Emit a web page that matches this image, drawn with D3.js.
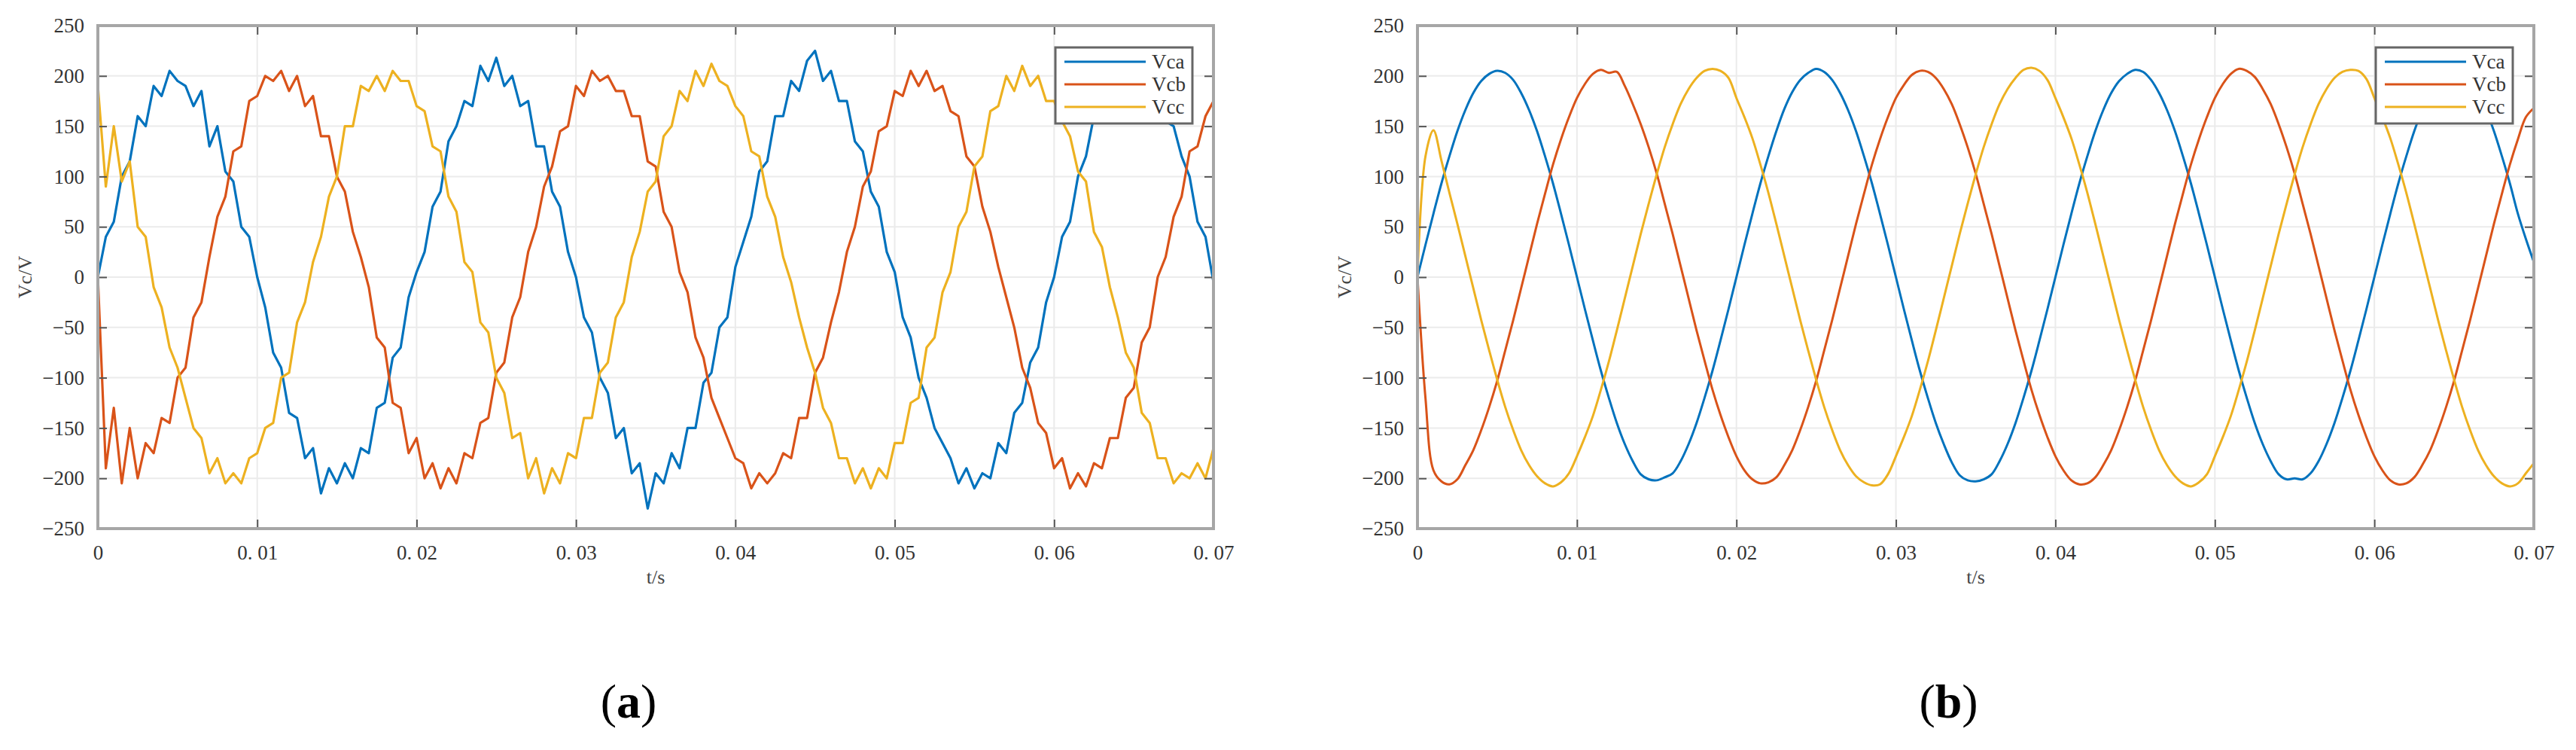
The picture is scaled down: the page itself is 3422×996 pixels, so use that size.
<!DOCTYPE html>
<html><head><meta charset="utf-8">
<script src="https://cdn.jsdelivr.net/npm/d3@7/dist/d3.min.js"></script>
<style>body{margin:0;background:#fff}svg{display:block}</style>
</head><body>
<svg id="c" width="3422" height="996"></svg>
<script>
const seriesNames = ["Vca","Vcb","Vcc"];
const colors = ["#0072BD","#D95319","#EDB120"];
const dt = 0.0005;
const xTicks = [0,0.01,0.02,0.03,0.04,0.05,0.06,0.07];
const xTickLabels = ["0","0. 01","0. 02","0. 03","0. 04","0. 05","0. 06","0. 07"];
const yTicks = [-250,-200,-150,-100,-50,0,50,100,150,200,250];

const aVca = [0,40,55,100,115,160,150,190,180,205,195,190,170,185,130,150,105,95,50,40,0,-30,-75,-90,-135,-140,-180,-170,-215,-190,-205,-185,-200,-170,-175,-130,-125,-80,-70,-20,
5,25,70,85,135,150,175,170,210,195,218,190,200,170,175,130,130,85,70,25,0,-40,-55,-100,-115,-160,-150,-195,-185,-230,-195,-205,-175,-190,-150,-150,-105,-95,-50,-40,
10,35,60,105,115,160,160,195,185,215,225,195,205,175,175,135,125,85,70,25,5,-40,-60,-100,-120,-150,-165,-180,-205,-190,-210,-195,-200,-165,-175,-135,-125,-85,-70,-25,
0,40,55,100,120,160,155,190,175,200,195,170,200,185,155,150,120,100,55,40,-5];
const aVcb = [0,-190,-130,-205,-150,-200,-165,-175,-140,-145,-100,-90,-40,-25,20,60,80,125,130,175,180,200,195,205,185,200,170,180,140,140,100,85,45,20,-10,-60,-70,-125,-130,-175,
-160,-200,-185,-210,-190,-205,-175,-180,-145,-140,-95,-85,-40,-20,25,50,90,110,145,150,190,180,205,195,200,185,185,160,160,115,110,65,50,5,-15,-60,-80,-120,-140,-160,
-180,-185,-210,-195,-205,-195,-175,-180,-140,-140,-95,-80,-45,-15,25,50,90,105,145,150,185,180,205,190,205,185,190,165,160,120,110,70,45,10,-20,-50,-90,-110,-145,-155,
-190,-180,-210,-195,-208,-185,-190,-160,-160,-120,-110,-65,-50,0,20,60,80,125,130,160,175];
const aVcc = [190,90,150,95,115,50,40,-10,-30,-70,-90,-120,-150,-160,-195,-180,-205,-195,-205,-180,-175,-150,-145,-100,-95,-45,-25,15,40,80,100,150,150,190,185,200,185,205,195,195,
170,165,130,125,80,65,15,5,-45,-55,-100,-115,-160,-155,-200,-180,-215,-190,-205,-175,-180,-140,-140,-95,-85,-40,-25,20,45,85,95,140,150,185,175,205,190,212,195,190,
170,160,125,120,80,60,20,-5,-40,-70,-95,-130,-145,-180,-180,-205,-190,-210,-190,-200,-165,-165,-125,-120,-70,-60,-15,5,50,65,110,120,165,170,200,185,210,190,200,175,
175,155,140,105,95,45,30,-10,-40,-75,-90,-135,-145,-180,-180,-205,-195,-200,-185,-200,-170];

const bVca = [0,32,63,93,120,145,166,183,195,202,205,203,196,183,166,145,120,93,63,32,0,-32,-63,-93,-120,-145,-166,-183,-196,-201,-202,-199,-195,-183,-166,-145,-120,-93,-63,-32,
0,32,63,93,120,145,167,184,196,203,207,204,196,183,166,145,120,93,63,32,0,-32,-63,-93,-120,-145,-166,-184,-197,-202,-203,-201,-196,-183,-166,-145,-120,-93,-63,-32,
0,32,63,93,120,145,166,183,195,202,206,204,196,183,166,145,120,93,63,32,0,-32,-63,-93,-120,-145,-166,-183,-196,-201,-200,-201,-195,-183,-166,-145,-120,-93,-63,-32,
0,32,63,93,120,145,166,183,195,202,205,203,196,183,166,145,120,93,63,38,15];
const bVcb = [0,-120,-192,-203,-206,-201,-187,-172,-152,-129,-103,-73,-43,-11,21,53,83,112,137,159,178,192,202,206,203,204,190,172,152,129,103,73,43,11,-21,-53,-83,-112,-137,-159,
-178,-192,-201,-205,-204,-199,-187,-172,-152,-129,-103,-73,-43,-11,21,53,83,112,137,159,178,191,201,205,204,198,187,172,152,129,103,73,43,11,-21,-53,-83,-112,-137,-159,
-178,-192,-202,-206,-205,-199,-187,-172,-152,-129,-103,-73,-43,-11,21,53,83,112,137,159,178,192,202,207,205,199,187,172,152,129,103,73,43,11,-21,-53,-83,-112,-137,-159,
-178,-192,-202,-206,-205,-199,-187,-172,-152,-129,-103,-73,-43,-11,21,53,83,112,137,159,168];
const bVcc = [0,120,146,116,84,53,21,-11,-43,-73,-102,-129,-152,-172,-187,-198,-205,-208,-204,-195,-178,-159,-138,-112,-84,-53,-21,11,43,73,102,129,152,172,187,198,205,207,205,198,
178,159,138,112,84,53,21,-11,-43,-73,-102,-129,-152,-172,-187,-198,-204,-207,-206,-196,-178,-159,-138,-112,-84,-53,-21,11,43,73,102,129,152,172,187,198,206,208,205,196,
178,159,138,112,84,53,21,-11,-43,-73,-102,-129,-152,-172,-187,-198,-205,-208,-204,-196,-178,-159,-138,-112,-84,-53,-21,11,43,73,102,129,152,172,187,198,204,206,205,197,
178,159,138,112,84,53,21,-11,-43,-73,-102,-129,-152,-172,-187,-198,-205,-208,-205,-195,-185];

const panels = [
  {x0:130, x1:1612, data:[aVca,aVcb,aVcc], label:"a", curve:d3.curveLinear, lw:3.2, leg:[1402,63]},
  {x0:1883, x1:3366, data:[bVca,bVcb,bVcc], label:"b", curve:d3.curveCatmullRom, lw:3, leg:[3156,63]}
];
const svg = d3.select("#c");
const plotTop = 34, plotBottom = 702;
const font = "'Liberation Serif', 'DejaVu Serif', serif";

panels.forEach(p => {
  const x = d3.scaleLinear().domain([0,0.07]).range([p.x0,p.x1]);
  const y = d3.scaleLinear().domain([-250,250]).range([plotBottom,plotTop]);
  const g = svg.append("g");
  g.selectAll(".gx").data(xTicks).join("line").attr("x1",d=>x(d)).attr("x2",d=>x(d))
    .attr("y1",plotTop).attr("y2",plotBottom).attr("stroke","#ebebeb").attr("stroke-width",2);
  g.selectAll(".gy").data(yTicks).join("line").attr("y1",d=>y(d)).attr("y2",d=>y(d))
    .attr("x1",p.x0).attr("x2",p.x1).attr("stroke","#ebebeb").attr("stroke-width",2);
  const clipId = "clip"+p.label;
  svg.append("clipPath").attr("id",clipId).append("rect").attr("x",p.x0).attr("y",plotTop).attr("width",p.x1-p.x0).attr("height",plotBottom-plotTop);
  const line = d3.line().x((d,i)=>x(i*dt)).y(d=>y(d)).curve(p.curve);
  p.data.forEach((arr,si)=>{
    g.append("path").attr("d",line(arr)).attr("fill","none").attr("stroke",colors[si])
      .attr("stroke-width",p.lw).attr("stroke-linejoin","round").attr("clip-path",`url(#${clipId})`);
  });
  const axB = d3.axisBottom(x).tickValues(xTicks).tickSize(-12).tickFormat((d,i)=>xTickLabels[i]).tickPadding(22);
  const axT = d3.axisTop(x).tickValues(xTicks).tickSize(-12).tickFormat("");
  const axL = d3.axisLeft(y).tickValues(yTicks).tickSize(-12).tickFormat(d3.format("d")).tickPadding(18);
  const axR = d3.axisRight(y).tickValues(yTicks).tickSize(-12).tickFormat("");
  [[axB,`translate(0,${plotBottom})`],[axT,`translate(0,${plotTop})`],[axL,`translate(${p.x0},0)`],[axR,`translate(${p.x1},0)`]].forEach(([ax,tr])=>{
    const a = g.append("g").attr("transform",tr).call(ax);
    a.select(".domain").remove();
    a.selectAll(".tick line").attr("stroke","#555").attr("stroke-width",2);
    a.selectAll("text").attr("font-family",font).attr("font-size",27).attr("fill","#333");
  });
  g.append("rect").attr("x",p.x0).attr("y",plotTop).attr("width",p.x1-p.x0).attr("height",plotBottom-plotTop)
    .attr("fill","none").attr("stroke","#a6a6a6").attr("stroke-width",4);
  g.append("text").attr("x",(p.x0+p.x1)/2).attr("y",775).attr("text-anchor","middle")
    .attr("font-family",font).attr("font-size",26).attr("fill","#444").text("t/s");
  g.append("text").attr("transform",`translate(${p.x0-88},368) rotate(-90)`).attr("text-anchor","middle")
    .attr("font-family",font).attr("font-size",26).attr("fill","#444").text("Vc/V");
  const lab = g.append("text").attr("x",(p.x0+p.x1)/2 - 36).attr("y",953).attr("text-anchor","middle")
    .attr("font-family",font).attr("font-size",64).attr("fill","#000");
  lab.append("tspan").text("(");
  lab.append("tspan").attr("font-weight","bold").text(p.label);
  lab.append("tspan").text(")");
  const [lx,ly] = p.leg;
  const lg = g.append("g");
  lg.append("rect").attr("x",lx).attr("y",ly).attr("width",182).attr("height",101)
    .attr("fill","#fff").attr("stroke","#666").attr("stroke-width",3);
  seriesNames.forEach((n,i)=>{
    const yy = ly+19+i*30;
    lg.append("line").attr("x1",lx+12).attr("x2",lx+120).attr("y1",yy).attr("y2",yy)
      .attr("stroke",colors[i]).attr("stroke-width",3);
    lg.append("text").attr("x",lx+128).attr("y",yy+9).attr("font-family",font).attr("font-size",27)
      .attr("fill","#333").text(n);
  });
});
</script>
</body></html>
